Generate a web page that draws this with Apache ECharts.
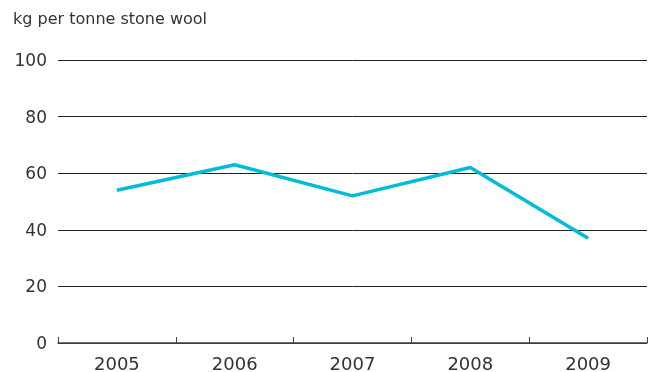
<!DOCTYPE html>
<html>
<head>
<meta charset="utf-8">
<script src="https://cdn.jsdelivr.net/npm/echarts@6/dist/echarts.min.js"></script>
<style>
  html, body { margin: 0; padding: 0; background: #fff; }
  #chart { width: 653px; height: 372px; }
</style>
</head>
<body>
<div id="chart"></div>
<script>
// Waste per tonne of stone wool produced
const years = ['2005', '2006', '2007', '2008', '2009'];
const wastePerTonne = [54, 63, 52, 62, 37];
const unitLabel = 'kg per tonne stone wool';

const chart = echarts.init(document.getElementById('chart'));
const font = '"DejaVu Sans", "Noto Sans", sans-serif';

chart.setOption({
  animation: false,
  title: {
    text: unitLabel,
    left: 8,
    top: 7,
    padding: 5,
    textStyle: { fontFamily: font, fontSize: 16, fontWeight: 'normal', color: '#333' }
  },
  grid: { left: 58, right: 6, top: 60, bottom: 29, containLabel: false, outerBoundsMode: 'none' },
  xAxis: {
    type: 'category',
    data: years,
    boundaryGap: true,
    axisLine: { lineStyle: { color: '#444', width: 1.5 } },
    axisTick: { show: true, inside: true, length: 6, lineStyle: { color: '#444' } },
    axisLabel: { fontFamily: font, fontSize: 18, color: '#333', margin: 13 },
    splitLine: { show: false }
  },
  yAxis: {
    type: 'value',
    min: 0,
    max: 100,
    interval: 20,
    axisLine: { show: false },
    axisTick: { show: false },
    axisLabel: {
      fontFamily: font, fontSize: 17, color: '#333', margin: 11,
      verticalAlign: 'top',
      lineHeight: 17,
      padding: [-7, 0, 0, 0]
    },
    splitLine: { lineStyle: { color: '#222', width: 1 } }
  },
  series: [{
    type: 'line',
    data: wastePerTonne,
    symbol: 'none',
    lineStyle: { color: '#00BCD9', width: 3.5 },
    itemStyle: { color: '#00BCD9' }
  }]
});
</script>
</body>
</html>
